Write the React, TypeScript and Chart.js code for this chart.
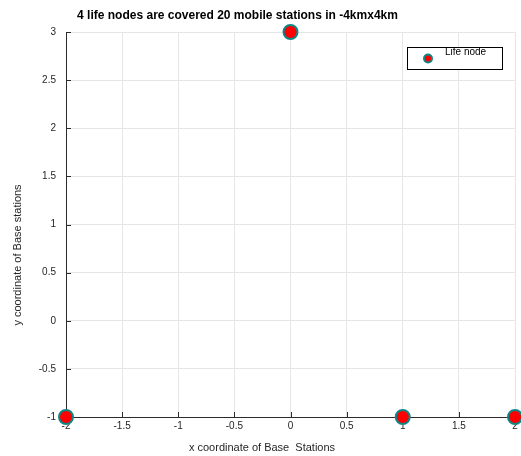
import React, { useEffect, useRef } from 'react';
import { Chart, registerables } from 'chart.js';

Chart.register(...registerables);

const xValues = [-2, 0, 1, 2];
const yValues = [-1, 3, -1, -1];
const xTicks = [-2, -1.5, -1, -0.5, 0, 0.5, 1, 1.5, 2];
const yTicks = [-1, -0.5, 0, 0.5, 1, 1.5, 2, 2.5, 3];
const seriesLabel = 'Life node';
const titleText = '4 life nodes are covered 20 mobile stations in -4kmx4km';
const xTitle = 'x coordinate of Base  Stations';
const yTitle = 'y coordinate of Base stations';

const FONT = '"Liberation Sans", Arial, Helvetica, sans-serif';
const FILL = '#ff0000';
const EDGE = '#0e8686';
const AXIS = '#2b2b2b';
const TEXT = '#262626';

const decorPlugin = {
  id: 'decor',
  beforeDatasetsDraw(chart: any) {
    const ctx = chart.ctx;
    const area = chart.chartArea;
    const xs = chart.scales.x;
    const ys = chart.scales.y;
    ctx.save();
    ctx.strokeStyle = AXIS;
    ctx.lineWidth = 1;
    ctx.beginPath();
    xTicks.forEach((v) => {
      const px = Math.round(xs.getPixelForValue(v)) + 0.5;
      ctx.moveTo(px, area.bottom);
      ctx.lineTo(px, area.bottom - 5);
    });
    yTicks.forEach((v) => {
      const py = Math.round(ys.getPixelForValue(v)) + 0.5;
      ctx.moveTo(area.left, py);
      ctx.lineTo(area.left + 5, py);
    });
    ctx.stroke();
    ctx.restore();
  },
  afterDraw(chart: any) {
    const ctx = chart.ctx;
    ctx.save();
    // title
    ctx.fillStyle = '#000';
    ctx.font = `bold 12px ${FONT}`;
    ctx.textAlign = 'center';
    ctx.textBaseline = 'middle';
    ctx.fillText(titleText, 237.5, 15.5);
    // x title
    ctx.fillStyle = TEXT;
    ctx.font = `11px ${FONT}`;
    ctx.fillText(xTitle, 262, 448);
    // y title
    ctx.save();
    ctx.translate(18, 255);
    ctx.rotate(-Math.PI / 2);
    ctx.fillText(yTitle, 0, 0);
    ctx.restore();
    // legend
    const ds = chart.data.datasets[0];
    ctx.fillStyle = '#fff';
    ctx.fillRect(407, 47, 95, 22);
    ctx.strokeStyle = '#000';
    ctx.lineWidth = 1;
    ctx.strokeRect(407.5, 47.5, 95, 22);
    ctx.beginPath();
    ctx.arc(428, 58.5, 4, 0, Math.PI * 2);
    ctx.fillStyle = ds.pointBackgroundColor;
    ctx.fill();
    ctx.lineWidth = 2;
    ctx.strokeStyle = ds.pointBorderColor;
    ctx.stroke();
    ctx.fillStyle = '#000';
    ctx.font = `10px ${FONT}`;
    ctx.textAlign = 'left';
    ctx.fillText(ds.label, 445, 52);
    ctx.restore();
  },
};

export default function App() {
  const ref = useRef<HTMLCanvasElement | null>(null);
  useEffect(() => {
    const canvas = ref.current;
    if (!canvas) return;
    const chart = new Chart(canvas, {
      type: 'scatter',
      data: {
        datasets: [
          {
            label: seriesLabel,
            data: xValues.map((x, i) => ({ x, y: yValues[i] })),
            pointRadius: 7,
            pointHoverRadius: 7,
            pointBorderWidth: 2,
            pointBackgroundColor: FILL,
            pointBorderColor: EDGE,
            clip: false as any,
          } as any,
        ],
      },
      options: {
        responsive: false,
        animation: false,
        devicePixelRatio: 1,
        layout: { autoPadding: false, padding: { top: 32, right: 6, left: 0, bottom: 0 } },
        plugins: {
          legend: { display: false },
          title: { display: false },
          tooltip: { enabled: false },
        },
        scales: {
          x: {
            type: 'linear',
            min: -2,
            max: 2,
            afterBuildTicks: (s: any) => {
              s.ticks = xTicks.map((v) => ({ value: v }));
            },
            afterFit: (s: any) => {
              s.height = 39;
              s.paddingLeft = 0;
              s.paddingRight = 0;
            },
            grid: { color: '#e6e6e6', drawTicks: false },
            border: { display: true, color: AXIS, width: 1 },
            ticks: {
              padding: 3,
              color: TEXT,
              font: { family: FONT, size: 10 },
              maxRotation: 0,
              autoSkip: false,
              callback: (v: any) => String(v),
            },
          },
          y: {
            type: 'linear',
            min: -1,
            max: 3,
            afterBuildTicks: (s: any) => {
              s.ticks = yTicks.map((v) => ({ value: v }));
            },
            afterFit: (s: any) => {
              s.width = 66;
              s.paddingTop = 0;
              s.paddingBottom = 0;
            },
            grid: { color: '#e6e6e6', drawTicks: false },
            border: { display: true, color: AXIS, width: 1 },
            ticks: {
              padding: 10,
              color: TEXT,
              font: { family: FONT, size: 10 },
              autoSkip: false,
              callback: (v: any) => String(v),
            },
          },
        },
      },
      plugins: [decorPlugin],
    });
    return () => chart.destroy();
  }, []);
  return (
    <div style={{ position: 'fixed', left: 0, top: 0, width: 521, height: 456, background: '#fff' }}>
      <canvas ref={ref} width={521} height={456} style={{ width: 521, height: 456, display: 'block' }} />
    </div>
  );
}
